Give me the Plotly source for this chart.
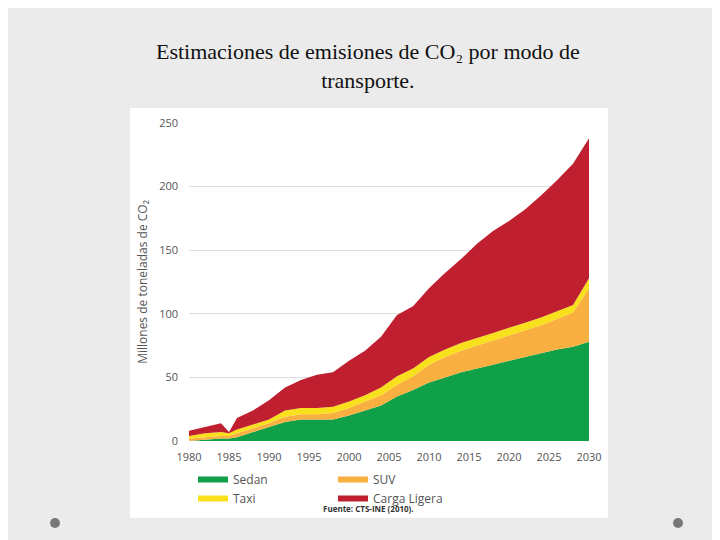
import plotly.graph_objects as go

years = [1980,1982,1984,1985,1986,1988,1990,1992,1994,1996,1998,2000,2002,2004,2006,2008,2010,2012,2014,2016,2018,2020,2022,2024,2026,2028,2030]
cum_sedan = [0,1,2,2,3,7,11,15,17,17,17,20,24,28,35,40,46,50,54,57,60,63,66,69,72,74,78]
cum_suv   = [2,3,4,4,6,10,14,19,21,21,22,26,31,36,44,51,60,66,71,75,79,83,87,91,96,101,120]
cum_taxi  = [4,6,7,6,9,13,17,24,26,26,27,31,36,42,51,57,66,72,77,81,85,89,93,97,102,107,128]
cum_total = [8,11,14,7,18,24,32,42,48,52,54,63,71,82,99,106,120,132,143,155,165,173,182,193,205,218,238]

sedan = cum_sedan
suv = [b-a for a,b in zip(cum_sedan,cum_suv)]
taxi = [b-a for a,b in zip(cum_suv,cum_taxi)]
carga = [b-a for a,b in zip(cum_taxi,cum_total)]

series = [("Sedan",sedan,"#10a048"),("SUV",suv,"#f9b040"),("Taxi",taxi,"#f8e01c"),("Carga Ligera",carga,"#c01f2f")]

fig = go.Figure()
for name,vals,col in series:
    fig.add_trace(go.Scatter(x=years,y=vals,name=name,stackgroup="one",mode="none",
                             fillcolor=col,line=dict(width=0,color=col)))

def py(p):  # pixel y -> paper y
    return (540-p-107)/318
def px(p):
    return (p-181)/400

fig.update_layout(
    width=720,height=540,
    paper_bgcolor="#ebebeb",plot_bgcolor="white",
    margin=dict(l=181,r=139,t=115,b=107,autoexpand=False),
    font=dict(family="Open Sans",color="#555",size=11),
    xaxis=dict(range=[1980,2030],tickvals=list(range(1980,2031,5)),showgrid=False,zeroline=False,ticks="",
               ticklabelstandoff=8,automargin=False),
    yaxis=dict(range=[0,250],tickvals=[0,50,100,150,200,250],gridcolor="#ddd",zeroline=False,
               ticklabelstandoff=10,automargin=False,
               title=dict(text="Millones de toneladas de CO₂",font=dict(size=12,color="#555"),standoff=8)),
    legend=dict(orientation="h",x=px(185),xanchor="left",y=py(481),yanchor="middle",bgcolor="rgba(0,0,0,0)",
                font=dict(size=12,color="#555"),traceorder="normal",entrywidthmode="pixels",entrywidth=95),
    showlegend=True,
    shapes=[dict(type="rect",xref="paper",yref="paper",layer="below",
                 x0=px(122),x1=px(600),y0=py(510),y1=py(100),
                 fillcolor="white",line=dict(width=0)),
            dict(type="circle",xref="paper",yref="paper",x0=px(42),x1=px(52),
                 y0=py(520),y1=py(510),fillcolor="#777",line=dict(width=0)),
            dict(type="circle",xref="paper",yref="paper",x0=px(665),x1=px(675),
                 y0=py(520),y1=py(510),fillcolor="#777",line=dict(width=0))],
    annotations=[
        dict(text="Estimaciones de emisiones de CO₂ por modo de<br>transporte.",xref="paper",yref="paper",
             x=px(360),y=py(58),xanchor="center",yanchor="middle",showarrow=False,
             font=dict(family="Liberation Serif",size=22,color="#111")),
        dict(text="<b>Fuente: CTS-INE (2010).</b>",xref="paper",yref="paper",x=px(360),
             y=py(500),xanchor="center",yanchor="middle",showarrow=False,font=dict(size=8,color="#333")),
    ],
)
fig.write_html("out.html")
